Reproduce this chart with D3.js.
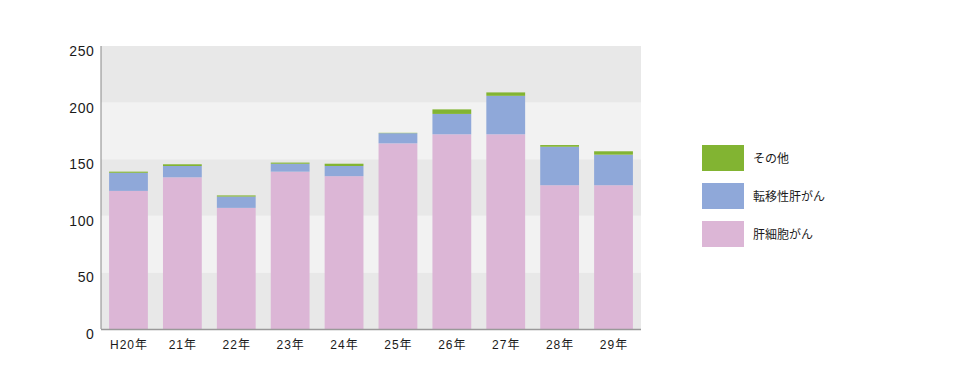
<!DOCTYPE html>
<html><head><meta charset="utf-8">
<script src="https://cdn.jsdelivr.net/npm/d3@7"></script>
<style>body{margin:0;background:#fff}svg{display:block}text{font-family:"Liberation Sans","Noto Sans CJK JP",sans-serif}</style>
</head><body>
<script>
const categories = ["H20年","21年","22年","23年","24年","25年","26年","27年","28年","29年"];
const hcc = [122,134,107,139,135,164,172,172,127,127];
const metastatic = [16,10,10,7,9,9,18,34,34,27];
const other = [1,1.5,1,1,2,0.3,4,3,1.5,3];
const seriesNames = ["肝細胞がん","転移性肝がん","その他"];
const yTicks = [0,50,100,150,200,250];
const colors = ["#dcb6d6","#8fa8d9","#82b432"];

const W=962,H=384;
const svg=d3.select("body").append("svg").attr("width",W).attr("height",H);
const x=d3.scaleBand().domain(categories).range([101,641]).paddingInner(0.28).paddingOuter(0.15);
const y=d3.scaleLinear().domain([0,250]).range([329,46]);

const bands=[[0,50],[50,100],[100,150],[150,200],[200,250]];
svg.selectAll("rect.band").data(bands).join("rect")
  .attr("x",101).attr("width",540)
  .attr("y",d=>y(d[1])).attr("height",d=>y(d[0])-y(d[1]))
  .attr("fill",(d,i)=>i%2===0?"#e8e8e8":"#f2f2f2");

const rows=categories.map((c,i)=>({cat:c,s0:hcc[i],s1:metastatic[i],s2:other[i]}));
const stack=d3.stack().keys(["s0","s1","s2"])(rows);
svg.selectAll("g.layer").data(stack).join("g").attr("fill",(d,i)=>colors[i])
  .selectAll("rect").data(d=>d).join("rect")
  .attr("x",d=>x(d.data.cat)).attr("width",x.bandwidth())
  .attr("y",d=>y(d[1])).attr("height",d=>Math.max(0,y(d[0])-y(d[1])));

svg.append("line").attr("x1",101).attr("x2",101).attr("y1",46).attr("y2",329).attr("stroke","#888").attr("stroke-width",1);
svg.append("line").attr("x1",101).attr("x2",641).attr("y1",329.5).attr("y2",329.5).attr("stroke","#999").attr("stroke-width",1.5);

svg.selectAll("text.yt").data(yTicks).join("text")
  .attr("x",94.5).attr("y",d=>y(d)+10).attr("text-anchor","end")
  .attr("font-size",14).attr("letter-spacing",0.6).attr("fill","#1a1a1a").text(d=>d);

svg.selectAll("text.xt").data(categories).join("text")
  .attr("x",d=>x(d)+x.bandwidth()/2+0.5).attr("y",349).attr("text-anchor","middle")
  .attr("font-size",12).attr("letter-spacing",1).attr("fill","#1a1a1a").text(d=>d);

const legendOrder=[2,1,0];
const lg=svg.selectAll("g.lg").data(legendOrder).join("g")
  .attr("transform",(d,i)=>`translate(702,${145+i*38})`);
lg.append("rect").attr("width",42).attr("height",26).attr("fill",d=>colors[d]);
lg.append("text").attr("x",51).attr("y",18).attr("font-size",12).attr("fill","#1a1a1a").text(d=>seriesNames[d]);
</script>
</body></html>
